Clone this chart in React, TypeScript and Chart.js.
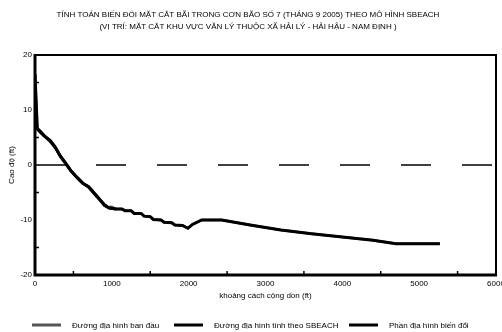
import React, { useEffect, useRef } from 'react';
import { Chart, registerables } from 'chart.js';

Chart.register(...registerables);

const titleLines = [
  'TÍNH TOÁN BIẾN ĐỔI MẶT CẮT BÃI TRONG CƠN BÃO SỐ 7 (THÁNG 9 2005) THEO MÔ HÌNH SBEACH',
  '(VỊ TRÍ: MẶT CẮT KHU VỰC VĂN LÝ THUỘC XÃ HẢI LÝ - HẢI HẬU - NAM ĐỊNH )',
];
const xTitle = 'khoảng cách cộng dồn (ft)';
const yTitle = 'Cao độ (ft)';
const seriesNames = [
  'Đường địa hình ban đầu',
  'Đường địa hình tính theo SBEACH',
  'Phần địa hình biến đổi',
];

const initialX = [0, 30, 60, 130, 210, 280, 350, 420, 500, 580, 660, 740, 820, 860, 900, 950, 1000, 1050, 1130, 1170, 1250, 1290, 1380, 1420, 1500, 1540, 1640, 1680, 1780, 1820, 1920, 1990, 2050, 2170, 2430, 2800, 3200, 3600, 4000, 4400, 4700, 5270];
const initialY = [16.5, 6.5, 6.0, 5.2, 4.0, 2.8, 1.2, -0.2, -1.6, -2.8, -3.7, -4.5, -5.8, -6.6, -7.4, -7.7, -7.6, -8.0, -8.0, -8.3, -8.3, -8.8, -8.8, -9.3, -9.4, -9.9, -10.0, -10.4, -10.5, -10.9, -11.0, -11.5, -10.8, -10.0, -10.0, -10.9, -11.8, -12.5, -13.1, -13.7, -14.3, -14.3];

const sbeachX = [0, 30, 60, 120, 200, 260, 330, 400, 470, 550, 620, 700, 760, 830, 900, 960, 1050, 1130, 1170, 1250, 1290, 1380, 1420, 1500, 1540, 1640, 1680, 1780, 1820, 1920, 1990, 2050, 2170, 2430, 2800, 3200, 3600, 4000, 4400, 4700, 5270];
const sbeachY = [16.5, 6.6, 6.2, 5.3, 4.4, 3.3, 1.6, 0.3, -1.1, -2.3, -3.3, -4.0, -5.0, -6.1, -7.2, -7.8, -8.0, -8.0, -8.3, -8.3, -8.8, -8.8, -9.3, -9.4, -9.9, -10.0, -10.4, -10.5, -10.9, -11.0, -11.5, -10.8, -10.0, -10.0, -10.9, -11.8, -12.5, -13.1, -13.7, -14.3, -14.3];

const changedX = [30, 60, 120, 200, 260, 330, 400, 470, 550, 620, 700, 760, 830, 900, 960, 1050];
const changedY = [6.6, 6.2, 5.3, 4.4, 3.3, 1.6, 0.3, -1.1, -2.3, -3.3, -4.0, -5.0, -6.1, -7.2, -7.8, -8.0];

const levelX = [0, 6000];
const levelY = [0, 0];

const xMin = 0;
const xMax = 6000;
const xStep = 500;
const xLabelStep = 1000;
const yMin = -20;
const yMax = 20;
const yStep = 5;
const yLabelStep = 10;

const toPoints = (xs: number[], ys: number[]) => xs.map((x, i) => ({ x, y: ys[i] }));

const FONT = '"Liberation Sans", Arial, sans-serif';

const framePlugin = {
  id: 'frame',
  afterDatasetsDraw(chart: any) {
    const { ctx, chartArea } = chart;
    const { left, right, top, bottom } = chartArea;
    ctx.save();
    ctx.strokeStyle = '#000';
    ctx.lineWidth = 2;
    ctx.beginPath();
    ctx.moveTo(left, top);
    ctx.lineTo(right, top);
    ctx.lineTo(right, bottom);
    ctx.stroke();
    ctx.lineWidth = 3;
    ctx.beginPath();
    ctx.moveTo(left, top - 1);
    ctx.lineTo(left, bottom);
    ctx.lineTo(right + 1, bottom);
    ctx.stroke();
    ctx.lineWidth = 1.5;
    const xs = chart.scales.x;
    const ys = chart.scales.y;
    xs.ticks.forEach((t: any) => {
      if (t.value % xLabelStep === 0) return;
      const px = xs.getPixelForValue(t.value);
      ctx.beginPath();
      ctx.moveTo(px, bottom);
      ctx.lineTo(px, bottom - 4);
      ctx.stroke();
    });
    ys.ticks.forEach((t: any) => {
      if (t.value % yLabelStep === 0) return;
      const py = ys.getPixelForValue(t.value);
      ctx.beginPath();
      ctx.moveTo(left, py);
      ctx.lineTo(left + 4, py);
      ctx.stroke();
    });
    ctx.restore();
  },
};

const legendPlugin = {
  id: 'customLegend',
  afterDraw(chart: any) {
    const { ctx } = chart;
    const starts = [32, 174, 349];
    const y = 325;
    ctx.save();
    ctx.font = `8px ${FONT}`;
    ctx.textBaseline = 'middle';
    ctx.textAlign = 'left';
    chart.data.datasets.forEach((ds: any, i: number) => {
      if (ds.hideInLegend) return;
      const x0 = starts[i];
      ctx.strokeStyle = ds.borderColor;
      ctx.lineWidth = 3;
      ctx.beginPath();
      ctx.moveTo(x0, y);
      ctx.lineTo(x0 + 29, y);
      ctx.stroke();
      ctx.fillStyle = '#000';
      ctx.fillText(ds.label, x0 + 40, y + 1);
    });
    ctx.restore();
  },
};

export default function App() {
  const ref = useRef<HTMLCanvasElement>(null);

  useEffect(() => {
    document.body.style.margin = '0';
    const canvas = ref.current!;
    const chart = new Chart(canvas, {
      type: 'line',
      data: {
        datasets: [
          {
            label: seriesNames[0],
            data: toPoints(initialX, initialY),
            borderColor: '#555555',
            backgroundColor: '#555555',
            borderWidth: 2.5,
            pointRadius: 0,
            tension: 0,
            order: 3,
          },
          {
            label: seriesNames[1],
            data: toPoints(sbeachX, sbeachY),
            borderColor: '#000000',
            backgroundColor: '#000000',
            borderWidth: 3,
            pointRadius: 0,
            tension: 0,
            order: 2,
          },
          {
            label: seriesNames[2],
            data: toPoints(changedX, changedY),
            borderColor: '#000000',
            backgroundColor: '#000000',
            borderWidth: 3,
            pointRadius: 0,
            tension: 0,
            order: 1,
          },
          {
            label: 'level',
            hideInLegend: true,
            data: toPoints(levelX, levelY),
            borderColor: '#000000',
            borderWidth: 1.5,
            borderDash: [30, 31],
            pointRadius: 0,
            order: 4,
          } as any,
        ],
      },
      options: {
        animation: false,
        responsive: false,
        devicePixelRatio: 1,
        layout: { padding: { left: 0, right: 24, top: 0, bottom: 27 } },
        plugins: {
          legend: { display: false },
          tooltip: { enabled: false },
          title: {
            display: true,
            text: titleLines,
            color: '#000',
            font: { family: FONT, size: 8, weight: 'normal', lineHeight: 1.5 },
            padding: { top: 9, bottom: 22 },
          },
        },
        scales: {
          x: {
            type: 'linear',
            min: xMin,
            max: xMax,
            grid: { display: false, drawTicks: false },
            border: { display: false },
            ticks: {
              stepSize: xStep,
              autoSkip: false,
              maxRotation: 0,
              padding: 4,
              color: '#000',
              font: { family: FONT, size: 8 },
              callback: (v: any) => (Number(v) % xLabelStep === 0 ? String(v) : ''),
            },
            title: {
              display: true,
              text: xTitle,
              color: '#000',
              font: { family: FONT, size: 8 },
              padding: { top: 0, bottom: 4 },
            },
            afterFit: (s: any) => {
              s.height = 30;
            },
          },
          y: {
            type: 'linear',
            min: yMin,
            max: yMax,
            grid: { display: false, drawTicks: false },
            border: { display: false },
            ticks: {
              stepSize: yStep,
              autoSkip: false,
              padding: 3,
              color: '#000',
              font: { family: FONT, size: 8 },
              callback: (v: any) => (Number(v) % yLabelStep === 0 ? String(v) : ''),
            },
            title: {
              display: true,
              text: yTitle,
              color: '#000',
              font: { family: FONT, size: 8 },
              padding: { top: 7, bottom: 0 },
            },
            afterFit: (s: any) => {
              s.width = 35;
            },
          },
        },
      },
      plugins: [framePlugin, legendPlugin],
    });
    return () => chart.destroy();
  }, []);

  return (
    <div
      style={{
        position: 'fixed',
        left: 0,
        top: 0,
        width: 502,
        height: 332,
        overflow: 'hidden',
        background: '#fff',
      }}
    >
      <canvas ref={ref} width={520} height={332} style={{ width: 520, height: 332, display: 'block' }} />
    </div>
  );
}
